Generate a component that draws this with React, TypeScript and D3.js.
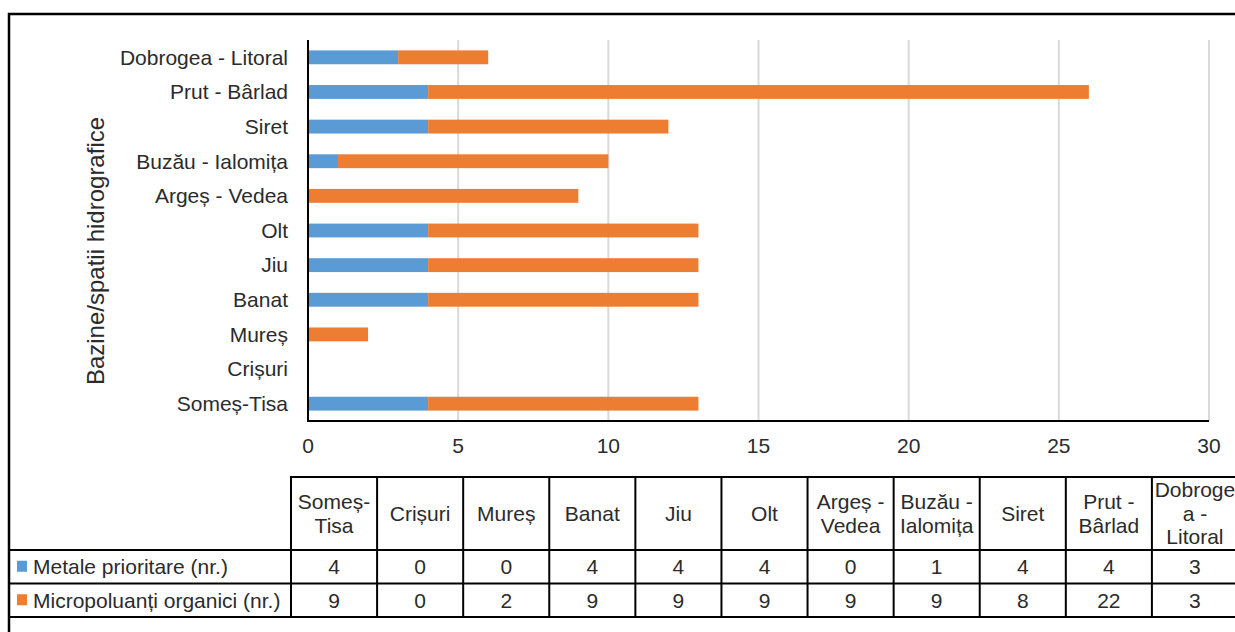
import React from "react";
import * as d3 from "d3";

// Basins, in table order (bottom-to-top on the bar axis)
const categories = [
  "Someș-Tisa",
  "Crișuri",
  "Mureș",
  "Banat",
  "Jiu",
  "Olt",
  "Argeș - Vedea",
  "Buzău - Ialomița",
  "Siret",
  "Prut - Bârlad",
  "Dobrogea - Litoral",
];

// Wrapped header lines for the data table
const headerLines = [
  ["Someș-", "Tisa"],
  ["Crișuri"],
  ["Mureș"],
  ["Banat"],
  ["Jiu"],
  ["Olt"],
  ["Argeș -", "Vedea"],
  ["Buzău -", "Ialomița"],
  ["Siret"],
  ["Prut -", "Bârlad"],
  ["Dobroge", "a -", "Litoral"],
];

const metale = [4, 0, 0, 4, 4, 4, 0, 1, 4, 4, 3];
const micropoluanti = [9, 0, 2, 9, 9, 9, 9, 9, 8, 22, 3];

const seriesNames = ["Metale prioritare (nr.)", "Micropoluanți organici (nr.)"];
const seriesKeys = ["metale", "micro"];
const seriesColors = ["#5B9BD5", "#ED7D31"];

const xTicks = [0, 5, 10, 15, 20, 25, 30];
const axisTitle = "Bazine/spatii hidrografice";

const W = 1235;
const H = 632;
const FONT = "'Liberation Sans', Arial, Helvetica, sans-serif";
const TEXT = "#2b2b2b";

export default function App() {
  const rows = categories.map((c, i) => ({
    cat: c,
    metale: metale[i],
    micro: micropoluanti[i],
  }));

  const x = d3.scaleLinear().domain([0, 30]).range([308, 1209]);
  const y = d3
    .scaleBand<string>()
    .domain([...categories].reverse())
    .range([40, 421])
    .paddingInner(0.6)
    .paddingOuter(0.3);

  const stacked = d3.stack<any>().keys(seriesKeys)(rows);

  // data table geometry
  const col = d3.scaleBand<string>().domain(categories).range([291, 1238]);
  const tTop = 477;
  const tHead = 550;
  const tRow1 = 583.5;
  const tRow2 = 617;
  const rowBounds = [
    [tHead, tRow1],
    [tRow1, tRow2],
  ];
  const rowValues = [metale, micropoluanti];
  const lineH = 23.5;
  const headCenter = (tTop + tHead) / 2;

  return (
    <svg
      width={W}
      height={H}
      style={{ position: "absolute", left: 0, top: 0, background: "#fff" }}
      fontFamily={FONT}
    >
      <rect x={0} y={0} width={W} height={H} fill="#fff" />

      {/* gridlines */}
      {xTicks
        .filter((t) => t > 0)
        .map((t) => (
          <line
            key={"g" + t}
            x1={x(t)}
            x2={x(t)}
            y1={40}
            y2={421}
            stroke="#d9d9d9"
            strokeWidth={2}
          />
        ))}

      {/* stacked bars */}
      {stacked.map((s, si) =>
        s.map((d, i) =>
          d[1] - d[0] > 0 ? (
            <rect
              key={si + "-" + i}
              x={x(d[0])}
              width={x(d[1]) - x(d[0])}
              y={y(rows[i].cat)}
              height={y.bandwidth()}
              fill={seriesColors[si]}
            />
          ) : null
        )
      )}

      {/* axes */}
      <line x1={308} x2={308} y1={40} y2={422} stroke="#000" strokeWidth={2} />
      <line x1={307} x2={1209} y1={421} y2={421} stroke="#000" strokeWidth={2} />

      {/* x tick labels */}
      {xTicks.map((t) => (
        <text
          key={"t" + t}
          x={x(t)}
          y={452.5}
          textAnchor="middle"
          fontSize={21}
          fill={TEXT}
        >
          {t}
        </text>
      ))}

      {/* category labels */}
      {categories.map((c) => (
        <text
          key={"c" + c}
          x={288}
          y={(y(c) as number) + y.bandwidth() / 2}
          dy="0.35em"
          textAnchor="end"
          fontSize={21}
          fill={TEXT}
        >
          {c}
        </text>
      ))}

      {/* axis title */}
      <text
        transform={`translate(103.5, 251) rotate(-90)`}
        textAnchor="middle"
        fontSize={24}
        fill={TEXT}
      >
        {axisTitle}
      </text>

      {/* data table: header */}
      {categories.map((c, i) => {
        const lines = headerLines[i];
        const cx = (col(c) as number) + col.bandwidth() / 2;
        const first = headCenter - ((lines.length - 1) * lineH) / 2;
        return (
          <text key={"h" + c} textAnchor="middle" fontSize={21} fill={TEXT}>
            {lines.map((l, k) => (
              <tspan key={k} x={cx} y={first + k * lineH} dy="0.35em">
                {l}
              </tspan>
            ))}
          </text>
        );
      })}

      {/* data table: values and legend keys */}
      {rowValues.map((vals, r) => {
        const cy = (rowBounds[r][0] + rowBounds[r][1]) / 2;
        return (
          <g key={"r" + r}>
            <rect x={17} y={cy - 6} width={10} height={11} fill={seriesColors[r]} />
            <text x={33} y={cy} dy="0.35em" fontSize={21} fill={TEXT}>
              {seriesNames[r]}
            </text>
            {vals.map((v, i) => (
              <text
                key={i}
                x={(col(categories[i]) as number) + col.bandwidth() / 2}
                y={cy}
                dy="0.35em"
                textAnchor="middle"
                fontSize={21}
                fill={TEXT}
              >
                {v}
              </text>
            ))}
          </g>
        );
      })}

      {/* data table: grid lines */}
      <g stroke="#000" strokeWidth={2}>
        <line x1={290} x2={1245} y1={tTop} y2={tTop} />
        <line x1={9} x2={1245} y1={tHead} y2={tHead} />
        <line x1={9} x2={1245} y1={tRow1} y2={tRow1} />
        <line x1={9} x2={1245} y1={tRow2} y2={tRow2} />
        {categories.map((c) => (
          <line
            key={"v" + c}
            x1={col(c)}
            x2={col(c)}
            y1={tTop}
            y2={tRow2}
          />
        ))}
        <line x1={1238} x2={1238} y1={tTop} y2={tRow2} />
      </g>

      {/* outer frame */}
      <rect
        x={9}
        y={14}
        width={1250}
        height={640}
        fill="none"
        stroke="#000"
        strokeWidth={2.5}
      />
    </svg>
  );
}
